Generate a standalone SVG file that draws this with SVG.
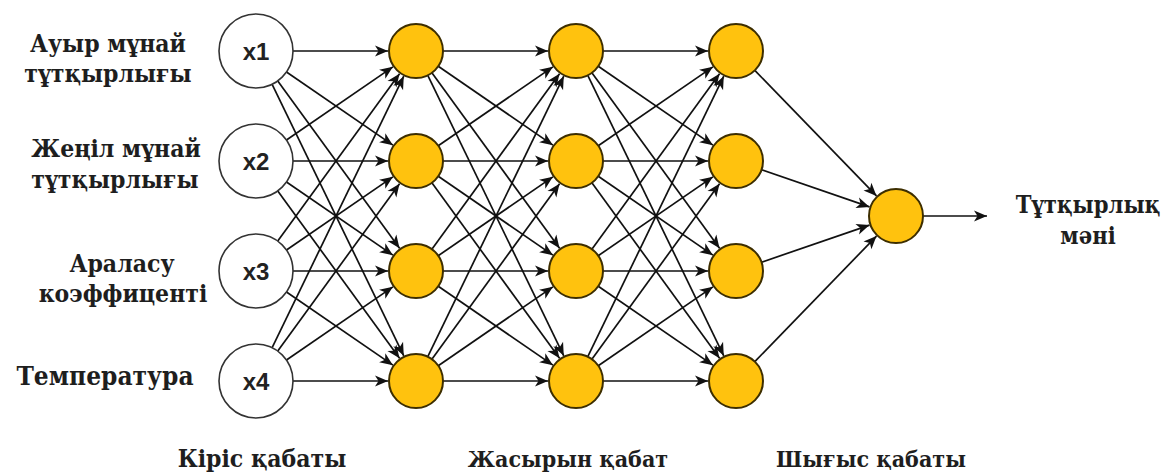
<svg xmlns="http://www.w3.org/2000/svg" width="1166" height="473" viewBox="0 0 1166 473">
  <style>
    .in { fill: #ffffff; stroke: #333333; stroke-width: 1.6; }
    .hid { fill: #FFC20E; stroke: #3d2e00; stroke-width: 2; }
    .edge line { stroke: #111111; stroke-width: 1.7; marker-end: url(#arr); }
  </style>
  <defs>
    <marker id="arr" markerUnits="userSpaceOnUse" markerWidth="14" markerHeight="11" refX="13" refY="5.5" orient="auto" overflow="visible">
      <path d="M0,0 L13,5.5 L0,11 L3.5,5.5 Z" fill="#111111"/>
    </marker>
  </defs>
  <rect width="1166" height="473" fill="#ffffff"/>

  <g id="connectors" class="edge">
    <line x1="293" y1="51" x2="388" y2="51"/>
    <line x1="286.49" y1="71.96" x2="392.93" y2="145.14"/>
    <line x1="277.76" y1="80.92" x2="399.53" y2="248.36"/>
    <line x1="272.14" y1="84.29" x2="403.78" y2="355.81"/>
    <line x1="286.49" y1="140.04" x2="392.93" y2="66.86"/>
    <line x1="293" y1="161" x2="388" y2="161"/>
    <line x1="286.49" y1="181.96" x2="392.93" y2="255.14"/>
    <line x1="277.76" y1="190.92" x2="399.53" y2="358.36"/>
    <line x1="277.76" y1="241.08" x2="399.53" y2="73.64"/>
    <line x1="286.49" y1="250.04" x2="392.93" y2="176.86"/>
    <line x1="293" y1="271" x2="388" y2="271"/>
    <line x1="286.49" y1="291.96" x2="392.93" y2="365.14"/>
    <line x1="272.14" y1="347.71" x2="403.78" y2="76.19"/>
    <line x1="277.76" y1="351.08" x2="399.53" y2="183.64"/>
    <line x1="286.49" y1="360.04" x2="392.93" y2="286.86"/>
    <line x1="293" y1="381" x2="388" y2="381"/>
    <line x1="443" y1="51" x2="548" y2="51"/>
    <line x1="438.25" y1="66.30" x2="552.93" y2="145.14"/>
    <line x1="431.88" y1="72.83" x2="559.53" y2="248.36"/>
    <line x1="427.78" y1="75.29" x2="563.78" y2="355.81"/>
    <line x1="438.25" y1="145.70" x2="552.93" y2="66.86"/>
    <line x1="443" y1="161" x2="548" y2="161"/>
    <line x1="438.25" y1="176.30" x2="552.93" y2="255.14"/>
    <line x1="431.88" y1="182.83" x2="559.53" y2="358.36"/>
    <line x1="431.88" y1="249.17" x2="559.53" y2="73.64"/>
    <line x1="438.25" y1="255.70" x2="552.93" y2="176.86"/>
    <line x1="443" y1="271" x2="548" y2="271"/>
    <line x1="438.25" y1="286.30" x2="552.93" y2="365.14"/>
    <line x1="427.78" y1="356.71" x2="563.78" y2="76.19"/>
    <line x1="431.88" y1="359.17" x2="559.53" y2="183.64"/>
    <line x1="438.25" y1="365.70" x2="552.93" y2="286.86"/>
    <line x1="443" y1="381" x2="548" y2="381"/>
    <line x1="603" y1="51" x2="708" y2="51"/>
    <line x1="598.25" y1="66.30" x2="712.93" y2="145.14"/>
    <line x1="591.88" y1="72.83" x2="719.53" y2="248.36"/>
    <line x1="587.78" y1="75.29" x2="723.78" y2="355.81"/>
    <line x1="598.25" y1="145.70" x2="712.93" y2="66.86"/>
    <line x1="603" y1="161" x2="708" y2="161"/>
    <line x1="598.25" y1="176.30" x2="712.93" y2="255.14"/>
    <line x1="591.88" y1="182.83" x2="719.53" y2="358.36"/>
    <line x1="591.88" y1="249.17" x2="719.53" y2="73.64"/>
    <line x1="598.25" y1="255.70" x2="712.93" y2="176.86"/>
    <line x1="603" y1="271" x2="708" y2="271"/>
    <line x1="598.25" y1="286.30" x2="712.93" y2="365.14"/>
    <line x1="587.78" y1="356.71" x2="723.78" y2="76.19"/>
    <line x1="591.88" y1="359.17" x2="719.53" y2="183.64"/>
    <line x1="598.25" y1="365.70" x2="712.93" y2="286.86"/>
    <line x1="603" y1="381" x2="708" y2="381"/>
    <line x1="754.80" y1="70.38" x2="876.51" y2="195.90"/>
    <line x1="761.53" y1="169.78" x2="869.52" y2="206.90"/>
    <line x1="761.53" y1="262.22" x2="869.52" y2="225.10"/>
    <line x1="754.80" y1="361.62" x2="876.51" y2="236.10"/>
    <line x1="923" y1="216" x2="987" y2="216"/>
  </g>

  <g font-family="Liberation Sans, Arial, sans-serif" font-weight="bold" font-size="24" fill="#222222" text-anchor="middle">
    <g id="in1"><circle class="in" cx="256" cy="51" r="37"/><text x="256" y="60">x1</text></g>
    <g id="in2"><circle class="in" cx="256" cy="161" r="37"/><text x="256" y="170">x2</text></g>
    <g id="in3"><circle class="in" cx="256" cy="271" r="37"/><text x="256" y="280">x3</text></g>
    <g id="in4"><circle class="in" cx="256" cy="381" r="37"/><text x="256" y="390">x4</text></g>
  </g>

  <g id="h1a"><circle class="hid" cx="416" cy="51" r="27"/></g>
  <g id="h1b"><circle class="hid" cx="416" cy="161" r="27"/></g>
  <g id="h1c"><circle class="hid" cx="416" cy="271" r="27"/></g>
  <g id="h1d"><circle class="hid" cx="416" cy="381" r="27"/></g>
  <g id="h2a"><circle class="hid" cx="576" cy="51" r="27"/></g>
  <g id="h2b"><circle class="hid" cx="576" cy="161" r="27"/></g>
  <g id="h2c"><circle class="hid" cx="576" cy="271" r="27"/></g>
  <g id="h2d"><circle class="hid" cx="576" cy="381" r="27"/></g>
  <g id="h3a"><circle class="hid" cx="736" cy="51" r="27"/></g>
  <g id="h3b"><circle class="hid" cx="736" cy="161" r="27"/></g>
  <g id="h3c"><circle class="hid" cx="736" cy="271" r="27"/></g>
  <g id="h3d"><circle class="hid" cx="736" cy="381" r="27"/></g>
  <g id="out"><circle class="hid" cx="896" cy="216" r="27"/></g>

  <g id="labels" font-family="'DejaVu Serif Condensed', 'DejaVu Serif', serif" font-weight="bold" font-size="24.5" fill="#1e1e1e" text-anchor="middle">
    <text x="108" y="52">Ауыр мұнай</text>
    <text x="108" y="82">тұтқырлығы</text>
    <text x="116" y="157">Жеңіл мұнай</text>
    <text x="115" y="188">тұтқырлығы</text>
    <text x="122" y="272">Араласу</text>
    <text x="123" y="302">коэффиценті</text>
    <text x="105" y="385" font-size="26">Температура</text>
    <text x="1088" y="213" font-size="23.5">Тұтқырлық</text>
    <text x="1088" y="244" font-size="23.5">мәні</text>
    <text x="262" y="467">Кіріс қабаты</text>
    <text x="568" y="467" font-size="23">Жасырын қабат</text>
    <text x="871" y="467" font-size="23">Шығыс қабаты</text>
  </g>
</svg>
